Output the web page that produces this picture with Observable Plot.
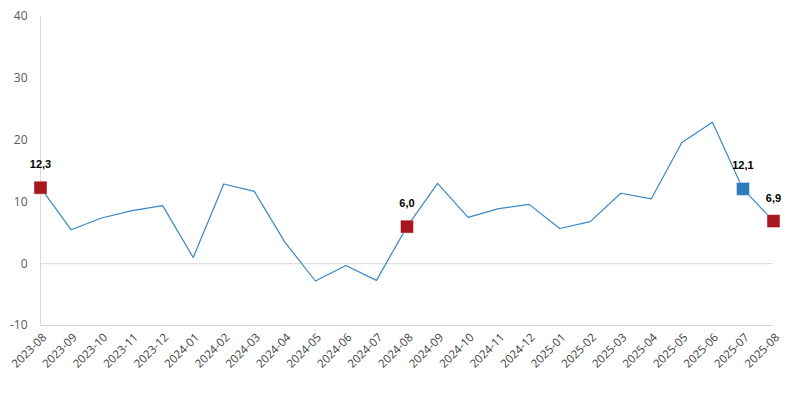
<!DOCTYPE html>
<html><head><meta charset="utf-8">
<script src="https://cdn.jsdelivr.net/npm/d3@7"></script>
<script src="https://cdn.jsdelivr.net/npm/@observablehq/plot@0.6"></script>
<style>html,body{margin:0;padding:0;background:#fff;overflow:hidden}#chart svg{display:block}</style>
</head><body><div id="chart"></div>
<script>
const months = ["2023-08","2023-09","2023-10","2023-11","2023-12","2024-01","2024-02","2024-03","2024-04","2024-05","2024-06","2024-07","2024-08","2024-09","2024-10","2024-11","2024-12","2025-01","2025-02","2025-03","2025-04","2025-05","2025-06","2025-07","2025-08"];
const values = [12.3,5.5,7.4,8.6,9.4,1.0,12.9,11.7,3.5,-2.8,-0.3,-2.7,6.0,13.0,7.5,8.9,9.6,5.7,6.8,11.4,10.5,19.6,22.9,12.1,6.9];
const highlightMonths = ["2023-08","2024-08","2025-07","2025-08"];
const highlightColors = ["#A8171F","#A8171F","#2E7BBA","#A8171F"];
const yTicks = [-10,0,10,20,30,40];

const data = months.map((m,i)=>({month:m, value:values[i]}));
const hl = highlightMonths.map((m,i)=>({month:m, value:values[months.indexOf(m)], color:highlightColors[i], label:values[months.indexOf(m)].toFixed(1).replace(".",",")}));

const chart = Plot.plot({
  width:806, height:395,
  marginLeft:40, marginRight:33, marginTop:16, marginBottom:70,
  style:{fontFamily:"'Open Sans', 'Noto Sans', sans-serif", background:"#fff"},
  x:{type:"point", domain:months, padding:0, range:[40,773], round:false},
  y:{domain:[-10,40], range:[325,16]},
  marks:[
    Plot.ruleY([0,-10], {stroke:"#d9d9d9", strokeWidth:1}),
    Plot.ruleX([months[0]], {y1:-10, y2:40, stroke:"#d9d9d9", strokeWidth:1}),
    Plot.axisY(yTicks, {tickSize:0, tickPadding:13, fontSize:12, fill:"#595959", label:null, tickFormat:d=>String(d)}),
    Plot.axisX({tickSize:0, tickRotate:-45, tickPadding:5, dx:4, dy:5, fontSize:11.5, fill:"#404040", label:null}),
    Plot.line(data, {x:"month", y:"value", stroke:"#3A87C6", strokeWidth:1.2}),
    Plot.dot(hl, {x:"month", y:"value", symbol:"square", r:7.3, fill:"color", stroke:"#fff", strokeOpacity:0.4, strokeWidth:1}),
    Plot.text(hl, {x:"month", y:"value", text:"label", dy:-23, fontSize:11, fontWeight:"bold", fill:"#000", fontFamily:"'Liberation Sans', Arial, sans-serif"})
  ]
});
document.getElementById("chart").appendChild(chart);
</script>
</body></html>
